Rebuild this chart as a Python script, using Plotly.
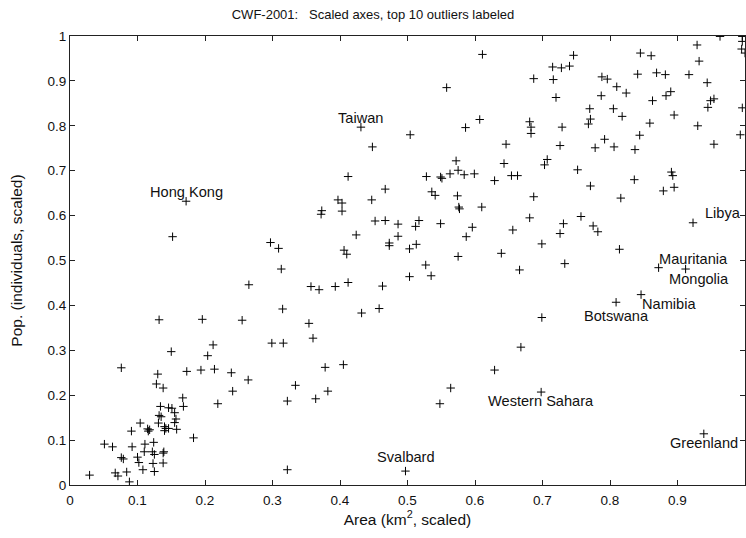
import plotly.graph_objects as go

# Scaled area (x) and scaled population (y) for each country
area = [
    0.132, 0.196, 0.255, 0.212, 0.150, 0.204, 0.076, 0.130, 0.173, 0.194,
    0.214, 0.239, 0.264, 0.128, 0.138, 0.241, 0.167, 0.134, 0.146, 0.151,
    0.168, 0.219, 0.155, 0.132, 0.135, 0.157, 0.104, 0.131, 0.155, 0.140,
    0.142, 0.146, 0.158, 0.115, 0.118, 0.116, 0.140, 0.091, 0.183, 0.051,
    0.063, 0.092, 0.111, 0.124, 0.110, 0.122, 0.125, 0.139, 0.138, 0.076,
    0.079, 0.100, 0.102, 0.123, 0.138, 0.108, 0.125, 0.029, 0.067, 0.071,
    0.084, 0.088,
    0.172, 0.152,
    0.412, 0.528, 0.467, 0.397, 0.403, 0.447, 0.373, 0.372, 0.403, 0.452,
    0.467, 0.486, 0.517, 0.512, 0.424, 0.486, 0.473, 0.473, 0.513, 0.503,
    0.297, 0.309, 0.406, 0.410, 0.527, 0.313, 0.503, 0.265, 0.357, 0.369,
    0.393, 0.412, 0.463, 0.315, 0.354, 0.432, 0.458, 0.360, 0.299, 0.316,
    0.431, 0.448,
    0.378, 0.405, 0.334, 0.382, 0.322, 0.364, 0.322, 0.497,
    0.572, 0.643, 0.707, 0.703, 0.752, 0.549, 0.551, 0.563, 0.575, 0.584,
    0.599, 0.629, 0.654, 0.663, 0.771, 0.536, 0.541, 0.574, 0.576, 0.577,
    0.610, 0.687, 0.681, 0.757, 0.549, 0.596, 0.587, 0.656, 0.731, 0.726,
    0.775, 0.782, 0.575, 0.639, 0.699, 0.733, 0.666, 0.535, 0.699, 0.668,
    0.611, 0.746, 0.715, 0.728, 0.740, 0.687, 0.716, 0.558, 0.720, 0.770,
    0.771, 0.768, 0.607, 0.586, 0.681, 0.683, 0.683, 0.729, 0.504, 0.646,
    0.726, 0.778,
    0.963, 0.996, 0.996, 0.995, 1.000, 0.929, 0.845, 0.861, 0.932, 0.841,
    0.869, 0.882, 0.917, 0.788, 0.796, 0.944, 0.810, 0.824, 0.787, 0.890,
    0.883, 0.863, 0.954, 0.949, 0.945, 0.996, 0.805, 0.818, 0.895, 0.859,
    0.930, 0.993, 0.844, 0.792, 0.806, 0.837, 0.954, 0.891, 0.893, 0.895,
    0.836, 0.879, 0.816, 0.923,
    0.814, 0.872, 0.912, 0.846, 0.809, 0.939,
    0.629, 0.564, 0.548, 0.698,
]
pop = [
    0.368, 0.369, 0.367, 0.312, 0.297, 0.288, 0.261, 0.247, 0.253, 0.256,
    0.258, 0.250, 0.234, 0.225, 0.216, 0.209, 0.194, 0.175, 0.172, 0.171,
    0.175, 0.181, 0.161, 0.155, 0.152, 0.147, 0.138, 0.138, 0.139, 0.130,
    0.126, 0.126, 0.124, 0.125, 0.123, 0.120, 0.121, 0.120, 0.105, 0.091,
    0.085, 0.085, 0.091, 0.095, 0.074, 0.074, 0.068, 0.074, 0.071, 0.061,
    0.058, 0.062, 0.050, 0.048, 0.049, 0.034, 0.030, 0.022, 0.027, 0.020,
    0.029, 0.007,
    0.632, 0.553,
    0.687, 0.687, 0.659, 0.635, 0.628, 0.635, 0.611, 0.603, 0.610, 0.588,
    0.589, 0.581, 0.589, 0.576, 0.557, 0.554, 0.539, 0.533, 0.536, 0.526,
    0.540, 0.527, 0.523, 0.514, 0.490, 0.481, 0.464, 0.446, 0.442, 0.435,
    0.442, 0.451, 0.443, 0.392, 0.360, 0.383, 0.393, 0.327, 0.316, 0.316,
    0.797, 0.753,
    0.262, 0.268, 0.222, 0.209, 0.187, 0.192, 0.034, 0.031,
    0.722, 0.716, 0.725, 0.713, 0.702, 0.686, 0.683, 0.693, 0.701, 0.691,
    0.693, 0.678, 0.689, 0.689, 0.666, 0.653, 0.645, 0.644, 0.619, 0.615,
    0.619, 0.642, 0.595, 0.598, 0.582, 0.574, 0.553, 0.568, 0.582, 0.560,
    0.577, 0.564, 0.509, 0.516, 0.537, 0.493, 0.479, 0.466, 0.373, 0.307,
    0.959, 0.957, 0.931, 0.929, 0.933, 0.905, 0.903, 0.885, 0.863, 0.838,
    0.815, 0.804, 0.814, 0.796, 0.809, 0.797, 0.783, 0.797, 0.780, 0.759,
    0.756, 0.751,
    0.999, 0.999, 0.988, 0.971, 0.962, 0.980, 0.962, 0.956, 0.944, 0.915,
    0.918, 0.914, 0.914, 0.909, 0.904, 0.896, 0.887, 0.873, 0.867, 0.876,
    0.867, 0.856, 0.860, 0.856, 0.841, 0.840, 0.838, 0.821, 0.824, 0.806,
    0.800, 0.780, 0.779, 0.770, 0.753, 0.747, 0.759, 0.697, 0.689, 0.663,
    0.680, 0.655, 0.639, 0.584,
    0.525, 0.484, 0.481, 0.424, 0.407, 0.114,
    0.256, 0.216, 0.181, 0.207,
]

# Labeled outliers and where their labels sit
label_names = ["Hong Kong", "Taiwan", "Svalbard", "Western Sahara", "Greenland",
               "Libya", "Mauritania", "Mongolia", "Namibia", "Botswana"]
label_x = [0.172, 0.431, 0.498, 0.698, 0.939, 0.968, 0.924, 0.932, 0.888, 0.809]
label_y = [0.652, 0.817, 0.062, 0.188, 0.094, 0.606, 0.503, 0.459, 0.403, 0.377]

tick_vals = [0, 0.1, 0.2, 0.3, 0.4, 0.5, 0.6, 0.7, 0.8, 0.9, 1]
tick_text = ["0", "0.1", "0.2", "0.3", "0.4", "0.5", "0.6", "0.7", "0.8", "0.9", "1"]

FONT = "Liberation Sans, Arial, sans-serif"

fig = go.Figure()
fig.add_trace(go.Scatter(
    x=area, y=pop, mode="markers",
    marker=dict(symbol="cross-thin", size=6, color="black",
                line=dict(color="black", width=1)),
    showlegend=False, hoverinfo="x+y",
))

for name, lx, ly in zip(label_names, label_x, label_y):
    fig.add_annotation(x=lx, y=ly, text=name, showarrow=False,
                       xanchor="center", yanchor="middle",
                       font=dict(family=FONT, size=14.6, color="#111"))

axis_common = dict(
    range=[0, 1], tickvals=tick_vals, ticktext=tick_text,
    showgrid=False, zeroline=False, showline=True, linecolor="#222",
    linewidth=1, mirror="ticks", ticks="inside", ticklen=5, tickcolor="#222",
    tickfont=dict(family=FONT, size=13.5, color="#111"),
)

fig.update_layout(
    width=746, height=538,
    margin=dict(l=70, r=1, t=36, b=53),
    paper_bgcolor="white", plot_bgcolor="white",
    title=dict(text="CWF-2001:   Scaled axes, top 10 outliers labeled",
               x=0.5, xref="container", xanchor="center",
               y=1 - 14 / 538, yref="container", yanchor="middle",
               font=dict(family=FONT, size=13, color="#111")),
    xaxis=dict(**axis_common, ticklabelstandoff=3,
               title=dict(text="Area (km<sup>2</sup>, scaled)", standoff=6,
                          font=dict(family=FONT, size=15.5, color="#111"))),
    yaxis=dict(**axis_common,
               title=dict(text="Pop. (individuals, scaled)", standoff=21,
                          font=dict(family=FONT, size=15.5, color="#111"))),
)

fig.write_html("out.html")
